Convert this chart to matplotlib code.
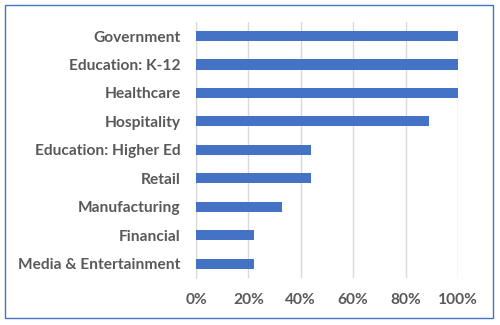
import matplotlib.pyplot as plt
from matplotlib.patches import Rectangle
from matplotlib.ticker import PercentFormatter

categories = ["Government", "Education: K-12", "Healthcare", "Hospitality",
              "Education: Higher Ed", "Retail", "Manufacturing", "Financial",
              "Media & Entertainment"]
values = [100, 100, 100, 89, 44, 44, 33, 22, 22]
xticks = [0, 20, 40, 60, 80, 100]

BAR = "#4472C4"
TXT = "#595959"
GRID = "#D9D9D9"

plt.rcParams["font.family"] = ["Lato", "DejaVu Sans"]

fig = plt.figure(figsize=(5, 3.25), dpi=100)
ax = fig.add_axes([0.392, 0.145, 0.524, 0.788])

ypos = list(range(len(categories)))[::-1]
ax.barh(ypos, values, height=0.36, color=BAR, zorder=3)

ax.set_xlim(0, 100)
ax.set_ylim(-0.5, len(categories) - 0.5)
ax.set_xticks(xticks)
ax.xaxis.set_major_formatter(PercentFormatter(decimals=0))
ax.set_yticks(ypos)
ax.set_yticklabels(categories)
ax.grid(axis="x", color=GRID, linewidth=1, zorder=0)
for s in ["top", "right", "bottom"]:
    ax.spines[s].set_visible(False)
ax.spines["left"].set_color(GRID)
ax.tick_params(axis="both", length=0, labelcolor=TXT, labelsize=11.2)
ax.tick_params(axis="y", pad=11)
ax.tick_params(axis="x", pad=11)
for lab in ax.get_xticklabels() + ax.get_yticklabels():
    lab.set_fontweight("bold")

fig.patches.append(Rectangle((0.01, 0.0215), 0.976, 0.9635, transform=fig.transFigure,
                             fill=False, edgecolor="#4472C4", linewidth=1))

fig.savefig("out.png", dpi=100)
